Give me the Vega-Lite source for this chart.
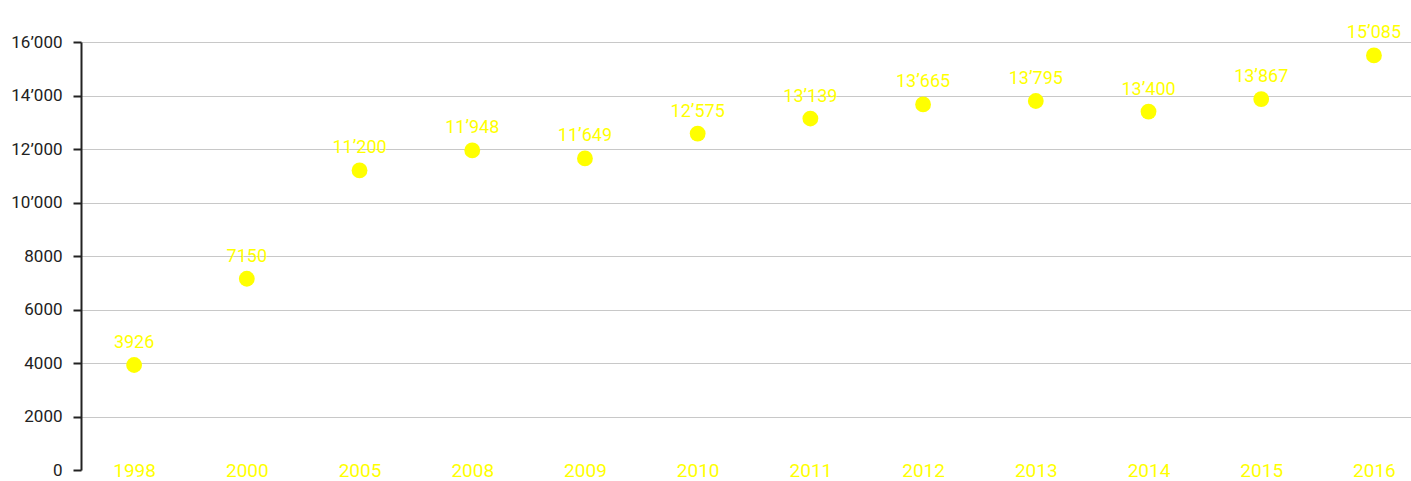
{
  "$schema": "https://vega.github.io/schema/vega-lite/v6.json",
  "width": 1330,
  "height": 428,
  "autosize": {"type": "none"},
  "padding": {"left": 81, "top": 42, "right": 0, "bottom": 11},
  "background": "white",
  "config": {"view": {"stroke": null}, "font": "Roboto"},
  "data": {
    "values": [
      {"year": "1998", "value": 3926, "label": "3926"},
      {"year": "2000", "value": 7150, "label": "7150"},
      {"year": "2005", "value": 11200, "label": "11’200"},
      {"year": "2008", "value": 11948, "label": "11’948"},
      {"year": "2009", "value": 11649, "label": "11’649"},
      {"year": "2010", "value": 12575, "label": "12’575"},
      {"year": "2011", "value": 13139, "label": "13’139"},
      {"year": "2012", "value": 13665, "label": "13’665"},
      {"year": "2013", "value": 13795, "label": "13’795"},
      {"year": "2014", "value": 13400, "label": "13’400"},
      {"year": "2015", "value": 13867, "label": "13’867"},
      {"year": "2016", "value": 15500, "label": "15’085"}
    ]
  },
  "encoding": {
    "x": {
      "field": "year", "type": "ordinal", "sort": null,
      "scale": {"type": "point", "padding": 0.4, "align": 0.589},
      "axis": {
        "title": null, "domain": false, "ticks": false, "labelAngle": 0,
        "labelColor": "#ffff00", "labelFont": "Roboto", "labelFontWeight": 400,
        "labelFontSize": 19, "labelPadding": -9, "grid": false
      }
    },
    "y": {
      "field": "value", "type": "quantitative",
      "scale": {"domain": [0, 16000], "nice": false, "zero": true},
      "axis": {
        "title": null, "values": [0, 2000, 4000, 6000, 8000, 10000, 12000, 14000, 16000],
        "labelExpr": "datum.value >= 10000 ? replace(format(datum.value, ','), ',', '’') : format(datum.value, 'd')",
        "domainColor": "#222222", "domainWidth": 2,
        "tickColor": "#222222", "tickWidth": 2, "tickSize": 8,
        "labelColor": "#222222", "labelFont": "Roboto", "labelFontSize": 17,
        "labelPadding": 11,
        "grid": true, "gridColor": "#c8c8c8", "gridWidth": 1,
        "gridOpacity": {"condition": {"test": "datum.value === 0", "value": 0}, "value": 1}
      }
    }
  },
  "layer": [
    {
      "mark": {"type": "point", "filled": true, "shape": "circle", "size": 250, "color": "#ffff00", "opacity": 1}
    },
    {
      "mark": {"type": "text", "color": "#ffff00", "font": "Roboto", "fontWeight": 400, "fontSize": 18, "baseline": "alphabetic", "dy": -17},
      "encoding": {"text": {"field": "label"}}
    }
  ]
}
